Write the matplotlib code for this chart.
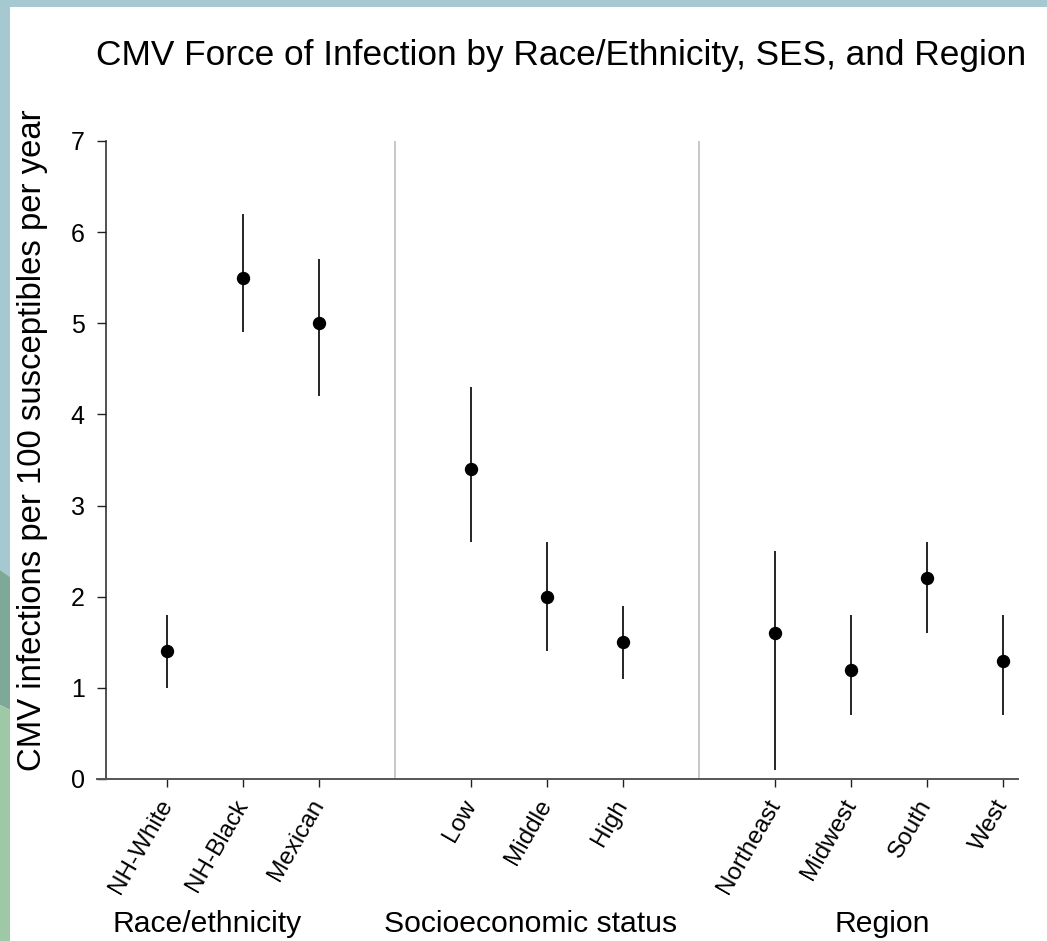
import matplotlib
matplotlib.use("Agg")
import matplotlib.pyplot as plt
from matplotlib.patches import Polygon, Rectangle
from matplotlib.transforms import blended_transform_factory

plt.rcParams["font.family"] = ["Liberation Sans", "DejaVu Sans"]

# ---- data -------------------------------------------------------------
categories = ["NH-White", "NH-Black", "Mexican",
              "Low", "Middle", "High",
              "Northeast", "Midwest", "South", "West"]
groups = ["Race/ethnicity", "Socioeconomic status", "Region"]
group_sizes = [3, 3, 4]
estimates = [1.4, 5.5, 5.0, 3.4, 2.0, 1.5, 1.6, 1.2, 2.2, 1.3]
lower_ci = [1.0, 4.9, 4.2, 2.6, 1.4, 1.1, 0.1, 0.7, 1.6, 0.7]
upper_ci = [1.8, 6.2, 5.7, 4.3, 2.6, 1.9, 2.5, 1.8, 2.6, 1.8]
y_ticks = [0, 1, 2, 3, 4, 5, 6, 7]

# ---- layout -----------------------------------------------------------
W, H = 1047, 941
fig = plt.figure(figsize=(W / 100, H / 100), dpi=100, facecolor="white")


def fpx(x, y):
    """Pixel position (from top-left) to figure fraction."""
    return (x / W, 1 - y / H)


# slide-style frame: blue band on top, blue/green strip on the left
blue = "#a6c8d1"
dark_green = "#7ea897"
light_green = "#9fc9a6"
fig.patches.append(Rectangle(fpx(0, 7), 1, 7 / H, transform=fig.transFigure,
                             facecolor=blue, edgecolor="none", zorder=0))
fig.patches.append(Polygon([fpx(0, 0), fpx(10, 0), fpx(10, 577), fpx(0, 570)],
                           closed=True, transform=fig.transFigure,
                           facecolor=blue, edgecolor="none", zorder=0))
fig.patches.append(Polygon([fpx(0, 570), fpx(10, 577), fpx(10, 710), fpx(0, 705)],
                           closed=True, transform=fig.transFigure,
                           facecolor=dark_green, edgecolor="none", zorder=0))
fig.patches.append(Polygon([fpx(0, 705), fpx(10, 710), fpx(10, H), fpx(0, H)],
                           closed=True, transform=fig.transFigure,
                           facecolor=light_green, edgecolor="none", zorder=0))

# x positions: one empty slot between groups
positions = []
separators = []
pos = 0
for gi, n in enumerate(group_sizes):
    for _ in range(n):
        positions.append(pos)
        pos += 1
    if gi < len(group_sizes) - 1:
        separators.append(pos)
        pos += 1

ax = fig.add_axes([97 / W, 162 / H, (1018 - 97) / W, (779 - 141) / H])
ax.set_facecolor("none")

for s in separators:
    ax.plot([s, s], [0, 7], color="#c8c8c8", lw=1.4, zorder=1,
            solid_capstyle="butt")

yerr = [[e - l for e, l in zip(estimates, lower_ci)],
        [u - e for e, u in zip(estimates, upper_ci)]]
ax.errorbar(positions, estimates, yerr=yerr, fmt="o", color="black",
            ms=8.6, elinewidth=1.2, capsize=0, zorder=3)

ax.set_xlim(-0.92, 11.2)
ax.set_ylim(0, 7)
ax.spines["top"].set_visible(False)
ax.spines["right"].set_visible(False)
ax.spines["left"].set_position(("data", -0.80))
ax.spines["left"].set_linewidth(1.1)
ax.spines["left"].set_color("#222222")
ax.spines["bottom"].set_linewidth(1.4)
ax.spines["bottom"].set_color("#555555")

ax.set_yticks(y_ticks)
ax.set_yticklabels([str(t) for t in y_ticks], fontsize=18)
ax.tick_params(axis="y", direction="out", length=6.5, width=1.0,
               color="#222222", pad=9)
ax.set_xticks(positions)
ax.set_xticklabels(categories, fontsize=17.5, rotation=60, ha="right",
                   va="center", rotation_mode="anchor")
ax.tick_params(axis="x", direction="out", length=6, width=1.0,
               color="#222222", pad=10)

# axis title placed directly on the figure
fig.text(33 / W, 1 - 440 / H, "CMV infections per 100 susceptibles per year",
         rotation=90, ha="center", va="center", fontsize=23.7)

# group captions under the tick labels
group_label_x = [0.53, 4.79, 9.42]
trans = blended_transform_factory(ax.transData, fig.transFigure)
for name, gx in zip(groups, group_label_x):
    ax.text(gx, 1 - 924 / H, name, transform=trans, ha="center",
            va="center", fontsize=21.7)

fig.text(561 / W, 1 - 56 / H,
         "CMV Force of Infection by Race/Ethnicity, SES, and Region",
         ha="center", va="center", fontsize=25.4)

fig.savefig("out.png", dpi=100, facecolor="white")
